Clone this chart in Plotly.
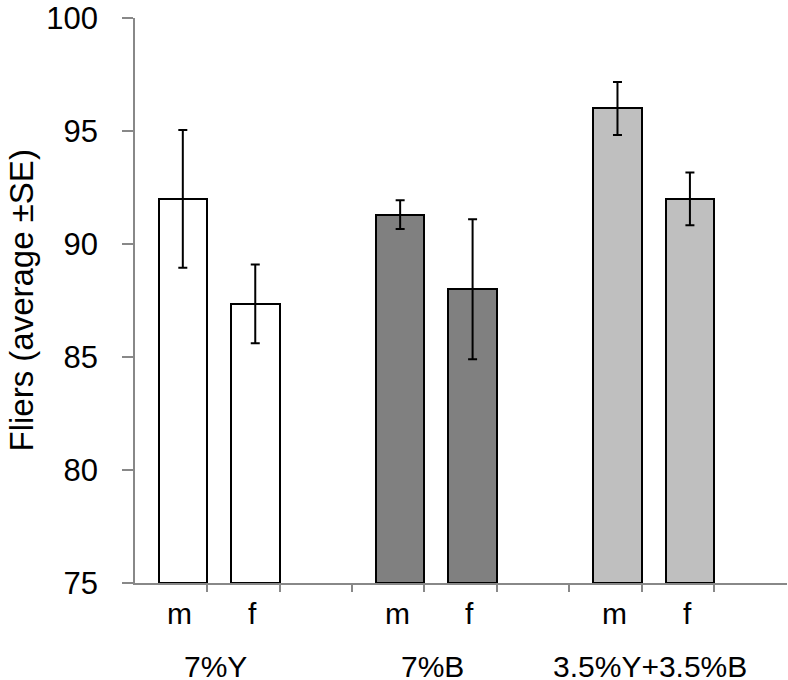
import plotly.graph_objects as go

# ---- data ----
groups = ["7%Y", "7%B", "3.5%Y+3.5%B"]
sexes = ["m", "f"]
means = [92.0, 87.35, 91.3, 88.0, 96.0, 92.0]      # order: group x sex
se = [3.05, 1.74, 0.64, 3.1, 1.17, 1.17]
group_colors = ["#FFFFFF", "#808080", "#BFBFBF"]
y_ticks = [75, 80, 85, 90, 95, 100]

# ---- layout helpers (positions) ----
positions = []
colors = []
labels = []
for gi, g in enumerate(groups):
    for si, s in enumerate(sexes):
        positions.append(3 * gi + si)
        colors.append(group_colors[gi])
        labels.append(s)

BAR_W = 0.67
x_range = [-0.66, 8.34]
tick_marks = [-0.665] + [i + 0.335 for i in range(8)]

FONT = "Liberation Sans, Arial, sans-serif"

fig = go.Figure()
fig.add_trace(go.Bar(
    x=positions, y=[m - 75 for m in means], base=75,
    width=BAR_W,
    marker=dict(color=colors, line=dict(color="black", width=2)),
    error_y=dict(type="data", array=se, color="black", thickness=2, width=4.5),
    showlegend=False, hoverinfo="skip",
))

annotations = []
for p, lab in zip(positions, labels):
    annotations.append(dict(x=p - 0.04, y=0, xref="x", yref="paper", text=lab,
                            showarrow=False, yanchor="middle", yshift=-30,
                            font=dict(family=FONT, size=30, color="black")))
for gi, g in enumerate(groups):
    annotations.append(dict(x=3 * gi + 0.45, y=0, xref="x", yref="paper", text=g,
                            showarrow=False, yanchor="middle", yshift=-83,
                            font=dict(family=FONT, size=30, color="black")))
annotations.append(dict(x=0, y=0.5, xref="paper", yref="paper",
                        text="Fliers (average \u00b1SE)", textangle=-90,
                        showarrow=False, xanchor="center", yanchor="middle",
                        xshift=-114,
                        font=dict(family=FONT, size=33, color="black")))

fig.update_layout(
    width=788, height=680,
    margin=dict(l=135, r=1, t=15, b=97),
    paper_bgcolor="white", plot_bgcolor="white",
    bargap=0,
    annotations=annotations,
    xaxis=dict(range=x_range, tickvals=tick_marks, showticklabels=False,
               ticks="outside", ticklen=7, tickcolor="#888888", tickwidth=1.5,
               showline=True, linecolor="#888888", linewidth=1.5,
               showgrid=False, zeroline=False, fixedrange=True),
    yaxis=dict(range=[74.995, 100.005], tickvals=y_ticks,
               ticks="outside", ticklen=11, tickcolor="#888888", tickwidth=1.5,
               ticklabelstandoff=18, ticklabeloverflow="allow",
               showline=True, linecolor="#888888", linewidth=1.5,
               showgrid=False, zeroline=False, fixedrange=True,
               tickfont=dict(family=FONT, size=31, color="black")),
)

fig.write_html("out.html", config={"displayModeBar": False},
               post_script="document.body.style.margin='0';document.body.style.overflow='hidden';")
